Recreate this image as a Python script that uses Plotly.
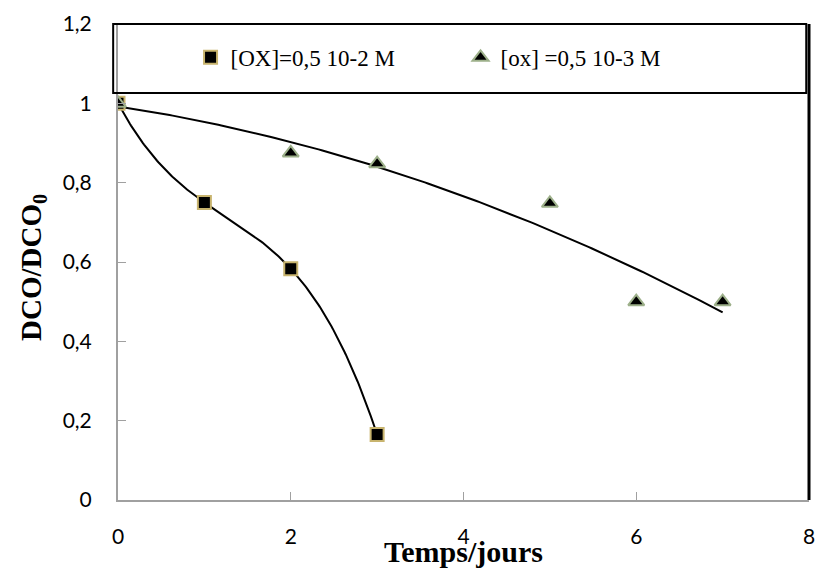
import numpy as np
import plotly.graph_objects as go

# Data
days_a = [0, 1, 2, 3]
dco_a = [1.0, 0.75, 0.583, 0.165]
days_b = [0, 2, 3, 5, 6, 7]
dco_b = [1.0, 0.875, 0.848, 0.748, 0.5, 0.5]
name_a = "[OX]=0,5 10-2 M"
name_b = "[ox] =0,5 10-3 M"
x_ticks = [0, 2, 4, 6, 8]
y_ticks = [0, 0.2, 0.4, 0.6, 0.8, 1.0, 1.2]
y_tick_text = ["0", "0,2", "0,4", "0,6", "0,8", "1", "1,2"]

# Polynomial trend lines (order 3 and order 2)
ca = np.polyfit(days_a, dco_a, 3)
xa = np.linspace(min(days_a), max(days_a), 200)
cb = np.polyfit(days_b, dco_b, 2)
xb = np.linspace(min(days_b), max(days_b), 200)

fig = go.Figure()
fig.add_trace(go.Scatter(x=xa, y=np.polyval(ca, xa), mode="lines",
                         line=dict(color="black", width=2), showlegend=False,
                         hoverinfo="skip"))
fig.add_trace(go.Scatter(x=xb, y=np.polyval(cb, xb), mode="lines",
                         line=dict(color="black", width=2), showlegend=False,
                         hoverinfo="skip"))
fig.add_trace(go.Scatter(x=days_a, y=dco_a, mode="markers", name=name_a,
                         marker=dict(symbol="square", size=13, color="black",
                                     line=dict(color="#c8b46e", width=2))))
fig.add_trace(go.Scatter(x=days_b, y=dco_b, mode="markers", name=name_b,
                         marker=dict(symbol="triangle-up", size=14, color="black",
                                     line=dict(color="#9db08a", width=2))))

tick_font = dict(family="Lato", size=21, color="black")
fig.update_layout(
    width=816, height=570,
    margin=dict(l=118, r=7, t=24, b=70),
    plot_bgcolor="white", paper_bgcolor="white",
    xaxis=dict(range=[0, 8], tickvals=x_ticks,
               ticks="inside", ticklen=8, automargin=False,
               tickcolor="#a0a0a0", showline=True, linecolor="#a0a0a0",
               linewidth=2, showgrid=False, zeroline=False,
               tickfont=tick_font, ticklabelstandoff=17),
    yaxis=dict(range=[0, 1.2], tickvals=y_ticks, ticktext=y_tick_text,
               ticks="inside", ticklen=8, tickcolor="#a0a0a0", showline=True,
               linecolor="#a0a0a0", linewidth=2, showgrid=False,
               automargin=False,
               zeroline=False, tickfont=tick_font, ticklabelstandoff=20),
    legend=dict(orientation="h", x=0.105, y=0.93, xanchor="left",
                yanchor="middle", bgcolor="rgba(0,0,0,0)",
                font=dict(family="Liberation Serif", size=23, color="black"),
                entrywidth=225, entrywidthmode="pixels", itemwidth=30),
    shapes=[
        dict(type="rect", xref="paper", yref="paper", x0=-0.007, x1=0.996,
             y0=0.855, y1=1.0, line=dict(color="black", width=2)),
        dict(type="line", xref="paper", yref="paper", x0=1.0, x1=1.0,
             y0=0.0, y1=1.0, line=dict(color="black", width=3)),
    ],
    annotations=[
        dict(text="<b>Temps/jours</b>", xref="paper", yref="paper",
             x=0.5, y=-0.108, xanchor="center", yanchor="middle",
             showarrow=False,
             font=dict(family="Liberation Serif", size=30, color="black")),
        dict(text="<b>DCO/DCO<sub>0</sub></b>", xref="paper", yref="paper",
             x=(33 - 118) / 691, y=(500 - 268) / 476, xanchor="center",
             yanchor="middle", textangle=-90, showarrow=False,
             font=dict(family="Liberation Serif", size=29, color="black")),
    ],
)

fig.write_html("out.html")
